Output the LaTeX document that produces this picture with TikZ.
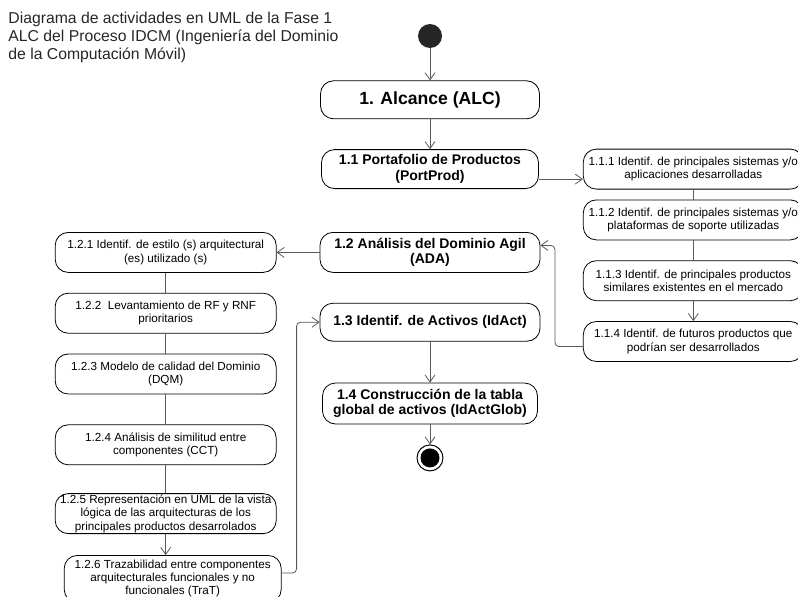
\documentclass[tikz,border=0pt]{standalone}
\usepackage{fontspec}
\setmainfont{Liberation Sans}
\usetikzlibrary{positioning,arrows.meta}

\begin{document}
\begin{tikzpicture}[x=1pt,y=-1pt,line width=0.8pt,>={Straight Barb[length=7pt,width=10pt]}]
\tikzstyle{every edge}=[draw=black!65];
\tikzstyle{act}=[draw, rounded corners=13pt, align=center, inner sep=1pt, minimum width=219pt, minimum height=39pt, font=\fontsize{14}{15.5}\selectfont\bfseries];
\tikzstyle{sub}=[draw, rounded corners=13pt, align=center, inner sep=1pt, minimum width=220pt, minimum height=40pt, font=\fontsize{11.7}{13.5}\selectfont];
\tikzstyle{fin}=[circle, draw, line width=1pt, minimum size=26pt, inner sep=0pt, path picture={\fill (path picture bounding box.center) circle (9.5pt);}];
\tikzstyle{link}=[draw=black!65, rounded corners=4pt];
\useasboundingbox (0,0) rectangle (798,597);
\clip (0,0) rectangle (798,597);

\node[anchor=north west, inner sep=0pt, align=left, font=\fontsize{15.75}{18}\selectfont, text=black!85] (titulo) at (8,12) {Diagrama de actividades en UML de la Fase 1\\ALC del Proceso IDCM (Ingeniería del Dominio\\de la Computación Móvil)};

% columna central
\node[circle, fill=black!85, minimum size=24pt, inner sep=0pt] (ini) at (430,36) {};
\node[act, minimum height=38pt, font=\fontsize{17.6}{19}\selectfont\bfseries] (alc) [below=32pt of ini] {1. Alcance (ALC)};
\node[act, minimum width=217pt] (port) [below=30pt of alc] {1.1 Portafolio de Productos\\(PortProd)};
\node[act, minimum width=220pt, minimum height=40pt] (ada) [below=43pt of port] {1.2 Análisis del Dominio Agil\\(ADA)};
\node[act, minimum width=220pt, minimum height=38pt] (idact) [below=30pt of ada] {1.3 Identif. de Activos (IdAct)};
\node[act, minimum width=215pt, minimum height=41pt] (glob) [below=41pt of idact] {1.4 Construcción de la tabla\\global de activos (IdActGlob)};
\node[fin] (fin) [below=20pt of glob] {};

% columna derecha
\node[sub] (p111) [right=44pt of port] {1.1.1 Identif. de principales sistemas y/o\\aplicaciones desarrolladas};
\node[sub] (p112) [below=10pt of p111] {1.1.2 Identif. de principales sistemas y/o\\plataformas de soporte utilizadas};
\node[sub] (p113) [below=20pt of p112] {1.1.3 Identif. de principales productos\\similares existentes en el mercado};
\node[sub] (p114) [below=20pt of p113] {1.1.4 Identif. de futuros productos que\\podrían ser desarrollados};

% columna izquierda
\node[sub, minimum width=221pt] (p121) [left=43pt of ada] {1.2.1 Identif. de estilo (s) arquitectural\\(es) utilizado (s)};
\node[sub, minimum width=221pt] (p122) [below=20pt of p121] {1.2.2\ \ Levantamiento de RF y RNF\\prioritarios};
\node[sub, minimum width=221pt] (p123) [below=20pt of p122] {1.2.3 Modelo de calidad del Dominio\\(DQM)};
\node[sub, minimum width=221pt] (p124) [below=30pt of p123] {1.2.4 Análisis de similitud entre\\componentes (CCT)};
\node[sub, minimum width=221pt] (p125) [below=28pt of p124] {1.2.5 Representación en UML de la vista\\lógica de las arquitecturas de los\\principales productos desarrolados};
\node[sub, minimum width=217pt, minimum height=47pt, xshift=7pt, font=\fontsize{11.7}{13}\selectfont] (p126) [below=21pt of p125] {1.2.6 Trazabilidad entre componentes\\arquitecturales funcionales y no\\funcionales (TraT)};

\path[->] (ini) edge (alc);
\path[->] (alc) edge (port);
\path[->] ([yshift=-10pt]port.east) edge ([yshift=-10pt]p111.west);
\path (p111) edge (p112);
\path (p112) edge (p113);
\path[->] (p113) edge (p114);
\draw[link,->] ([yshift=-5pt]p114.west) -- ++(-28pt,0) |- ([yshift=7pt]ada.east);
\path[->] (ada) edge (p121);
\path (p121) edge (p122);
\path (p122) edge (p123);
\path (p123) edge (p124);
\path (p124) edge (p125);
\path[->] (p125.south) edge (p125.south |- p126.north);
\draw[link,->] ([yshift=6pt]p126.east) -- ++(15pt,0) |- (idact.west);
\path[->] (idact) edge (glob);
\path[->] (glob) edge (fin);
\end{tikzpicture}
\end{document}
